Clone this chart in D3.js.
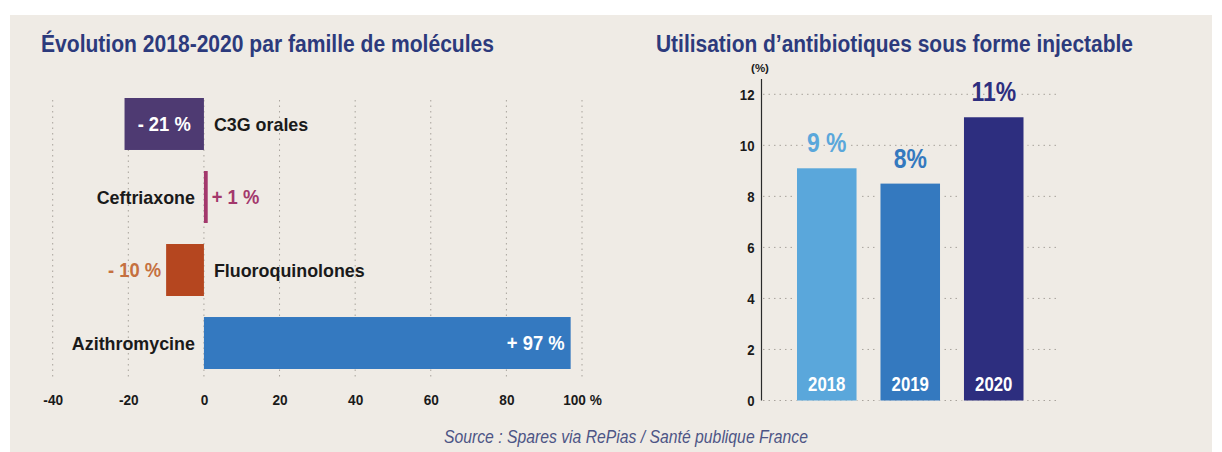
<!DOCTYPE html>
<html><head><meta charset="utf-8">
<script src="https://cdn.jsdelivr.net/npm/d3@7"></script>
<style>
html,body{margin:0;padding:0;background:#ffffff;}
svg text{font-family:"Liberation Sans",Arial,sans-serif;}
</style></head>
<body><svg id="c" width="1222" height="452"></svg>
<script>
// ---- data ----
const molecules = ["C3G orales","Ceftriaxone","Fluoroquinolones","Azithromycine"];
const evolution = [-21, 1, -10, 97];
const moleculeColors = ["#4e3a72","#a3386c","#b5461f","#3479c0"];
const moleculeLabelColors = ["#ffffff","#a3386c","#c5703f","#ffffff"];
const xTicksLeft = [-40,-20,0,20,40,60,80,100];

const years = ["2018","2019","2020"];
const injectable = [9.1, 8.5, 11.1];
const injectableLabels = ["9 %","8%","11%"];
const yearColors = ["#5aa7db","#3479bf","#2d2e7f"];
const yearLabelColors = ["#5aa7db","#3479bf","#2d2e7f"];
const yTicksRight = [0,2,4,6,8,10,12];

const titleLeft = "Évolution 2018-2020 par famille de molécules";
const titleRight = "Utilisation d’antibiotiques sous forme injectable";
const sourceText = "Source : Spares via RePias / Santé publique France";

const BG = "#efebe5";
const GRID = "#a8a39c";
const svg = d3.select("#c");
svg.append("rect").attr("x",10).attr("y",15).attr("width",1202).attr("height",437).attr("fill",BG);

// condense text horizontally (the original uses a condensed typeface)
function condense(sel, f){
  sel.each(function(){
    const w = this.getComputedTextLength();
    d3.select(this).attr("textLength", w*f).attr("lengthAdjust","spacingAndGlyphs");
  });
}

// titles
svg.append("text").attr("x",41).attr("y",52).attr("font-size",23).attr("font-weight","bold")
  .attr("fill","#2c3a7c").attr("textLength",453).attr("lengthAdjust","spacingAndGlyphs").text(titleLeft);
svg.append("text").attr("x",656).attr("y",52).attr("font-size",23).attr("font-weight","bold")
  .attr("fill","#2c3a7c").attr("textLength",477).attr("lengthAdjust","spacingAndGlyphs").text(titleRight);
svg.append("text").attr("x",444).attr("y",443).attr("font-size",18).attr("font-style","italic")
  .attr("fill","#4d5585").attr("textLength",364).attr("lengthAdjust","spacingAndGlyphs").text(sourceText);

// ---- left chart ----
const x = d3.scaleLinear().domain([-40,100]).range([52.7,582]);
const y = d3.scaleBand().domain(molecules).range([98,369]).paddingInner(0.288).paddingOuter(0);
const gL = svg.append("g");
gL.selectAll("line.grid").data(xTicksLeft).join("line").attr("class","grid")
  .attr("x1",d=>x(d)).attr("x2",d=>x(d)).attr("y1",100).attr("y2",377)
  .attr("stroke",GRID).attr("stroke-width",1).attr("stroke-dasharray","1.5,4");
const xAxis = d3.axisBottom(x).tickValues(xTicksLeft).tickSize(0).tickFormat(d=>d===100?"100 %":String(d));
const ax = gL.append("g").attr("transform","translate(0,391)").call(xAxis);
ax.select(".domain").remove();
ax.selectAll("text").attr("font-size",15.5).attr("font-weight","bold").attr("fill","#1a1a1a")
  .attr("font-family","Liberation Sans, Arial, sans-serif").call(condense,0.88);

const rows = molecules.map((m,i)=>({m, v:evolution[i], c:moleculeColors[i], lc:moleculeLabelColors[i]}));
gL.selectAll("rect.bar").data(rows).join("rect").attr("class","bar")
  .attr("x",d=>x(Math.min(0,d.v))).attr("width",d=>Math.abs(x(d.v)-x(0)))
  .attr("y",d=>y(d.m)).attr("height",y.bandwidth()).attr("fill",d=>d.c);
const fmt = v => (v<0?"- ":"+ ")+Math.abs(v)+" %";
// value labels
gL.selectAll("text.val").data(rows).join("text").attr("class","val")
  .attr("y",d=>y(d.m)+y.bandwidth()/2).attr("dy","0.36em")
  .attr("font-size",20).attr("font-weight","bold").attr("fill",d=>d.lc)
  .attr("x",d=>{
    if (Math.abs(d.v)>15) return d.v<0 ? (x(d.v)+x(0))/2 : x(d.v)-6;
    return d.v<0 ? x(d.v)-5 : x(d.v)+4;})
  .attr("text-anchor",d=>{
    if (Math.abs(d.v)>15) return d.v<0 ? "middle" : "end";
    return d.v<0 ? "end" : "start";})
  .text(d=>fmt(d.v)).call(condense,0.92);
// name labels
gL.selectAll("text.name").data(rows).join("text").attr("class","name")
  .attr("y",d=>y(d.m)+y.bandwidth()/2).attr("dy","0.36em")
  .attr("font-size",19).attr("font-weight","bold").attr("fill","#1a1a1a")
  .attr("x",d=>d.v<0 ? x(0)+10 : x(0)-9)
  .attr("text-anchor",d=>d.v<0?"start":"end")
  .text(d=>d.m).call(condense,0.94);

// ---- right chart ----
const yr = d3.scaleLinear().domain([0,12]).range([400.5,94.3]);
const xr = d3.scaleBand().domain(years).range([797,1023.5]).paddingInner(0.287).paddingOuter(0);
const gR = svg.append("g");
gR.selectAll("line.grid").data(yTicksRight).join("line").attr("class","grid")
  .attr("x1",763).attr("x2",1058).attr("y1",d=>yr(d)).attr("y2",d=>yr(d))
  .attr("stroke",GRID).attr("stroke-width",1).attr("stroke-dasharray","1.5,4");
const yAxis = d3.axisLeft(yr).tickValues(yTicksRight).tickSize(0).tickPadding(7);
const ay = gR.append("g").attr("transform","translate(761.5,0)").call(yAxis);
ay.select(".domain").remove();
ay.selectAll("text").attr("font-size",15).attr("font-weight","bold").attr("fill","#1a1a1a")
  .attr("font-family","Liberation Sans, Arial, sans-serif").call(condense,0.88);
gR.append("line").attr("x1",761.5).attr("x2",761.5).attr("y1",79).attr("y2",400.5)
  .attr("stroke","#2a2a2a").attr("stroke-width",1.2);
gR.append("text").attr("x",760).attr("y",72).attr("text-anchor","middle").attr("font-size",11.5)
  .attr("font-weight","bold").attr("fill","#1a1a1a").text("(%)");

const cols = years.map((yv,i)=>({y:yv, v:injectable[i], l:injectableLabels[i], c:yearColors[i], lc:yearLabelColors[i]}));
// halo behind bars
gR.selectAll("rect.halo").data(cols).join("rect").attr("class","halo")
  .attr("x",d=>xr(d.y)-4).attr("width",xr.bandwidth()+8)
  .attr("y",d=>yr(d.v)).attr("height",d=>yr(0)-yr(d.v)).attr("fill",BG);
gR.selectAll("rect.bar").data(cols).join("rect").attr("class","bar")
  .attr("x",d=>xr(d.y)).attr("width",xr.bandwidth())
  .attr("y",d=>yr(d.v)).attr("height",d=>yr(0)-yr(d.v)).attr("fill",d=>d.c);
gR.selectAll("text.yr").data(cols).join("text").attr("class","yr")
  .attr("x",d=>xr(d.y)+xr.bandwidth()/2).attr("y",yr(0)-10).attr("text-anchor","middle")
  .attr("font-size",19.5).attr("font-weight","bold").attr("fill","#ffffff").text(d=>d.y)
  .call(condense,0.86);
gR.selectAll("text.pct").data(cols).join("text").attr("class","pct")
  .attr("x",d=>xr(d.y)+xr.bandwidth()/2).attr("y",d=>yr(d.v)-16).attr("text-anchor","middle")
  .attr("font-size",27).attr("font-weight","bold").attr("fill",d=>d.lc)
  .attr("stroke",BG).attr("stroke-width",6).attr("paint-order","stroke")
  .text(d=>d.l).call(condense,0.85);
</script></body></html>
